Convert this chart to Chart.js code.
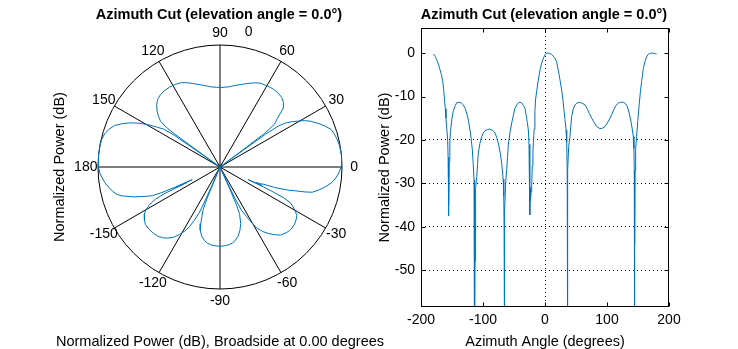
<!DOCTYPE html>
<html>
<head>
<meta charset="utf-8">
<script src="https://cdn.jsdelivr.net/npm/chart.js@4.4.1/dist/chart.umd.min.js"></script>
<style>
  body { margin: 0; background: #fff; }
  #wrap { position: relative; width: 738px; height: 349px; background: #fff; }
  canvas { position: absolute; top: 0; }
  #polarCanvas { left: 0; }
  #rectCanvas { left: 369px; }
</style>
</head>
<body>
<div id="wrap">
  <canvas id="polarCanvas" width="440" height="349"></canvas>
  <canvas id="rectCanvas" width="369" height="349"></canvas>
</div>
<script>
// azimuth cut, values (deg, dB)
var azimuthDeg = [
  -180, -177, -174.7, -172, -169.4, -167, -165, -163.5, -162.2, -160.8,
  -159.7, -158.3, -157, -156.3, -155.8, -155.5, -155.2, -154.9, -154.4, -153.5,
  -152.5, -151.6, -150, -148, -145, -142.4, -138.7, -135, -131.8, -129,
  -126.3, -123.5, -121, -119, -117.2, -115.8, -114.5, -114, -113.6, -113.3,
  -112.9, -112.4, -111.5, -110, -108.8, -107.5, -105, -102, -99.5, -96.8,
  -93, -89.8, -86, -83, -80.6, -78, -75.3, -72.5, -69.9, -67.5,
  -66.5, -66, -65.6, -65.2, -64.6, -63.5, -61.8, -60.5, -59.1, -56.5,
  -53.7, -51, -48.4, -45, -42.5, -40.3, -37.5, -35, -32.3, -30.5,
  -28.5, -26.9, -25.8, -25, -24.5, -24.2, -23.9, -23.4, -22.5, -21.5,
  -20.5, -19.5, -18.8, -17.5, -16.3, -15.3, -13, -10.8, -8, -5.4,
  -2.5, 0, 2.7, 5.4, 8, 10.5, 13.4, 16, 18.8, 21.5,
  24, 26.9, 28.8, 30.6, 32.3, 33.9, 35, 35.8, 36.1, 36.4,
  36.7, 37, 38.2, 40.3, 41.7, 43, 45.5, 48.4, 51.5, 55.3,
  59.5, 64.5, 68, 71.5, 75.3, 79.5, 83.4, 88.7, 92.5, 96.8,
  100.5, 104, 107.5, 111, 114.5, 118.3, 122, 126.3, 129.5, 132.7,
  135.5, 138.2, 140.5, 142.4, 143.4, 144, 144.3, 144.6, 144.9, 145.2,
  146.2, 147.8, 149.7, 151.6, 153.8, 156, 158.6, 161.3, 164, 167,
  170, 174, 177, 180
];
var powerDb = [
  -0.2, -0.7, -1.5, -2.5, -3.8, -5, -6.4, -8.3, -10.5, -12.8,
  -15, -17.5, -20, -24, -30, -37.5, -30, -35, -25, -20.5,
  -18.3, -16.9, -15, -13.4, -12.2, -11.4, -11.3, -11.5, -11.9, -12.7,
  -13.8, -15.5, -17.7, -19.8, -22.3, -25.5, -29.2, -33, -40, -75,
  -48, -36, -31, -28.4, -25.5, -23, -20.8, -19.2, -18.4, -17.9,
  -17.6, -17.5, -17.7, -18, -18.4, -19.4, -20.7, -22.8, -25.3, -29,
  -33, -40, -75, -50, -36, -30, -26.9, -24, -21.1, -18.3,
  -16.1, -14.3, -12.7, -11.8, -11.4, -11.3, -11.5, -12, -12.7, -14.2,
  -16, -17.7, -21, -27, -32, -37.3, -31, -34, -32, -30.7,
  -26, -23, -20.7, -17.5, -13.5, -10.8, -8.3, -6.2, -3.8, -2.3,
  -1.1, -0.4, 0, 0, -0.1, -0.3, -0.7, -1.2, -2, -4,
  -6, -8.5, -10.6, -13.1, -15.3, -17.7, -20.5, -27, -44, -75,
  -44, -27, -21.5, -19.2, -16.8, -14.6, -12.9, -11.9, -11.5, -11.3,
  -11.5, -11.9, -12.8, -13.9, -15, -16, -16.9, -17.4, -17.3, -16.9,
  -16.1, -15.2, -14.2, -13, -12, -11.5, -11.3, -11.3, -11.6, -12.3,
  -13.6, -15.4, -17.3, -19.2, -22, -27, -44, -75, -44, -27,
  -22, -19.2, -15.5, -12.3, -9, -6.3, -3.5, -1.9, -0.8, -0.2,
  0, 0, -0.1, -0.2
];

var xTicks = [-200, -100, 0, 100, 200];
var yTicks = [-50, -40, -30, -20, -10, 0];
var spokeAngles = [0, 30, 60, 90, 120, 150, 180, -150, -120, -90, -60, -30];
var spokeLabels = ['0', '30', '60', '90', '120', '150', '180', '-150', '-120', '-90', '-60', '-30'];
var polarFloorDb = -50;   // centre of the polar plot
var polarRLabel = '0';

var titleText = 'Azimuth Cut (elevation angle = 0.0\u00b0)';
var lineBlue = '#0072BD';
var fontFam = 'Arial, "Liberation Sans", sans-serif';

Chart.defaults.font.family = fontFam;
Chart.defaults.color = '#000';

// polar points (radius 0..1 for floor..0 dB)
var polarPts = azimuthDeg.map(function(a, i) {
  var r = Math.max(0, (powerDb[i] - polarFloorDb) / -polarFloorDb);
  var t = a * Math.PI / 180;
  return { x: r * Math.cos(t), y: r * Math.sin(t) };
});
var rectPts = azimuthDeg.map(function(a, i) { return { x: a, y: powerDb[i] }; });

var polarGrid = {
  id: 'polarGrid',
  beforeDatasetsDraw: function(chart) {
    var ctx = chart.ctx, sx = chart.scales.x, sy = chart.scales.y;
    var cx = sx.getPixelForValue(0), cy = sy.getPixelForValue(0);
    var R = sx.getPixelForValue(1) - cx;
    ctx.save();
    ctx.strokeStyle = '#000';
    ctx.lineWidth = 1;
    ctx.beginPath();
    ctx.arc(cx, cy, R, 0, Math.PI * 2);
    ctx.stroke();
    for (var k = 0; k < 6; k++) {
      var t = k * 30 * Math.PI / 180;
      ctx.beginPath();
      ctx.moveTo(cx + R * Math.cos(t), cy - R * Math.sin(t));
      ctx.lineTo(cx - R * Math.cos(t), cy + R * Math.sin(t));
      ctx.stroke();
    }
    ctx.restore();
  },
  afterDraw: function(chart) {
    var ctx = chart.ctx, sx = chart.scales.x, sy = chart.scales.y;
    ctx.save();
    ctx.fillStyle = '#000';
    ctx.textAlign = 'center';
    ctx.textBaseline = 'middle';
    ctx.font = '14px ' + fontFam;
    spokeAngles.forEach(function(a, i) {
      var t = a * Math.PI / 180;
      ctx.fillText(spokeLabels[i], sx.getPixelForValue(1.1 * Math.cos(t)), sy.getPixelForValue(1.1 * Math.sin(t)));
    });
    var tr = 78 * Math.PI / 180;
    ctx.fillText(polarRLabel, sx.getPixelForValue(1.13 * Math.cos(tr)), sy.getPixelForValue(1.13 * Math.sin(tr)));

    ctx.font = 'bold 14.5px ' + fontFam;
    ctx.fillText(titleText, 219, 15);
    ctx.font = '14.5px ' + fontFam;
    ctx.fillText('Normalized Power (dB), Broadside at 0.00 degrees', 220, 342);
    ctx.translate(60, 167);
    ctx.rotate(-Math.PI / 2);
    ctx.fillText('Normalized Power (dB)', 0, 0);
    ctx.restore();
  }
};

new Chart(document.getElementById('polarCanvas'), {
  type: 'scatter',
  data: {
    datasets: [{
      data: polarPts,
      showLine: true,
      borderColor: lineBlue,
      borderWidth: 1,
      pointRadius: 0,
      fill: false
    }]
  },
  options: {
    responsive: false,
    animation: false,
    layout: { padding: { left: 98, right: 98, top: 45, bottom: 60 } },
    plugins: { legend: { display: false }, tooltip: { enabled: false } },
    scales: {
      x: { type: 'linear', display: false, min: -1, max: 1 },
      y: { type: 'linear', display: false, min: -1, max: 1 }
    }
  },
  plugins: [polarGrid]
});

// box, inward ticks and title for the rectangular plot
var rectFrame = {
  id: 'rectFrame',
  afterDraw: function(chart) {
    var ctx = chart.ctx, a = chart.chartArea, sx = chart.scales.x, sy = chart.scales.y;
    var L = Math.round(a.left) + 0.5, Rr = Math.round(a.right) - 0.5;
    var T = Math.round(a.top) + 0.5, B = Math.round(a.bottom) - 0.5;
    ctx.save();
    ctx.strokeStyle = '#000';
    ctx.lineWidth = 1;
    ctx.strokeRect(L, T, Rr - L, B - T);
    ctx.beginPath();
    xTicks.forEach(function(v) {
      var p = Math.round(sx.getPixelForValue(v)) + 0.5;
      ctx.moveTo(p, B); ctx.lineTo(p, B - 4);
      ctx.moveTo(p, T); ctx.lineTo(p, T + 4);
    });
    yTicks.forEach(function(v) {
      var p = Math.round(sy.getPixelForValue(v)) + 0.5;
      ctx.moveTo(L, p); ctx.lineTo(L + 4, p);
      ctx.moveTo(Rr, p); ctx.lineTo(Rr - 4, p);
    });
    ctx.stroke();
    ctx.fillStyle = '#000';
    ctx.textAlign = 'center';
    ctx.textBaseline = 'middle';
    ctx.font = 'bold 14.5px ' + fontFam;
    ctx.fillText(titleText, 544 - 369, 15);
    ctx.restore();
  }
};

new Chart(document.getElementById('rectCanvas'), {
  type: 'scatter',
  data: {
    datasets: [{
      data: rectPts,
      showLine: true,
      borderColor: lineBlue,
      borderWidth: 1,
      pointRadius: 0,
      fill: false
    }]
  },
  options: {
    responsive: false,
    animation: false,
    layout: { padding: { left: 0, right: 69, top: 28, bottom: 0 } },
    plugins: { legend: { display: false }, tooltip: { enabled: false } },
    scales: {
      x: {
        type: 'linear', min: -200, max: 200,
        afterBuildTicks: function(s) { s.ticks = xTicks.map(function(v) { return { value: v }; }); },
        afterFit: function(s) { s.height = 42; },
        ticks: { font: { size: 14 }, color: '#000', padding: 5, maxRotation: 0, autoSkip: false },
        grid: {
          drawTicks: false,
          lineWidth: 1,
          color: function(c) { return c.tick && c.tick.value === 0 ? '#000' : 'rgba(0,0,0,0)'; }
        },
        border: { display: false, dash: [1, 3] },
        title: { display: true, text: 'Azimuth Angle (degrees)', font: { size: 14.5, lineHeight: 1 }, color: '#000', padding: { top: 0, bottom: 0 } }
      },
      y: {
        type: 'linear', min: -58.5, max: 5.8,
        afterBuildTicks: function(s) { s.ticks = yTicks.map(function(v) { return { value: v }; }); },
        afterFit: function(s) { s.width = 52; },
        ticks: { font: { size: 14 }, color: '#000', padding: 6, autoSkip: false },
        grid: {
          drawTicks: false,
          lineWidth: 1,
          color: function(c) { return c.tick && c.tick.value <= -20 ? '#000' : 'rgba(0,0,0,0)'; }
        },
        border: { display: false, dash: [1, 3] },
        title: { display: true, text: 'Normalized Power (dB)', font: { size: 14.5, lineHeight: 1 }, color: '#000', padding: { top: 9, bottom: 0 } }
      }
    }
  },
  plugins: [rectFrame]
});
</script>
</body>
</html>
